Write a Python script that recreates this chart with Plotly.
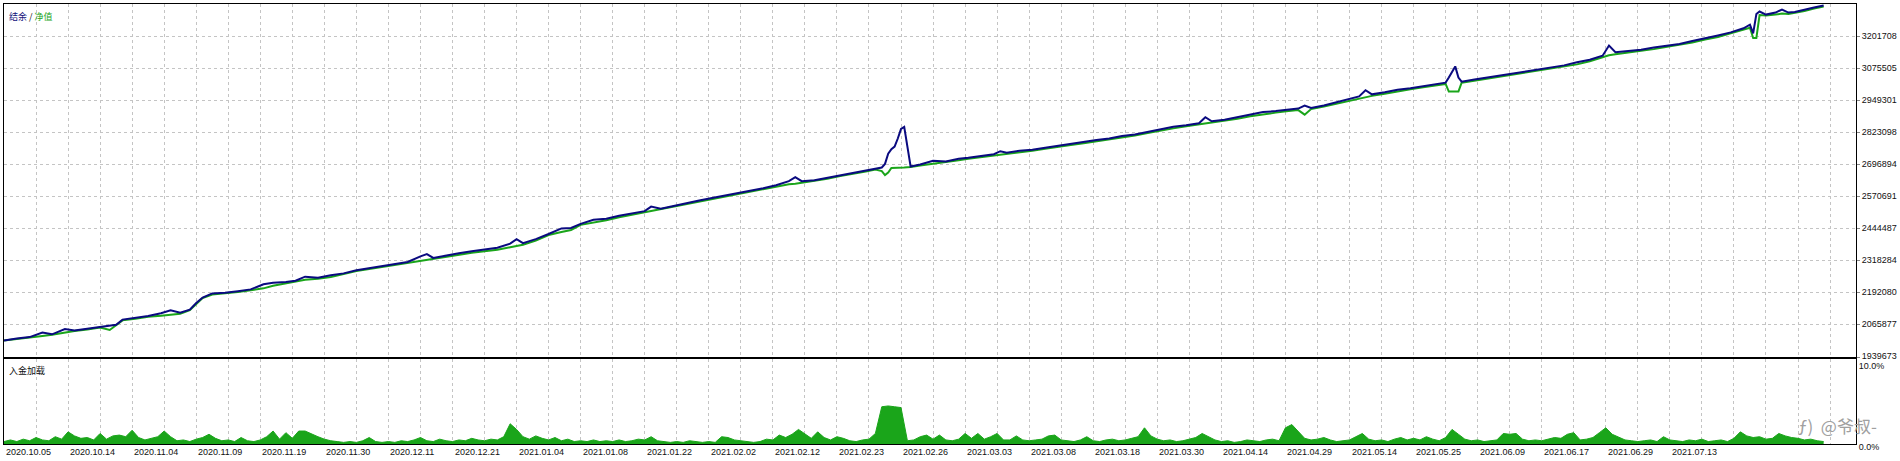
import plotly.graph_objects as go

# ---------------- data ----------------
trade_no = [0, 4, 8, 12, 15, 19, 22, 26, 30, 33, 35, 37, 41, 45, 49, 52, 55, 58, 60, 62,
            65, 69, 73, 77, 81, 84, 88, 91, 94, 98, 102, 106, 110, 114, 118, 122, 126, 130, 132, 134,
            138, 142, 146, 150, 154, 158, 160, 162, 166, 170, 174, 177, 180, 184, 188, 192, 196, 200, 202, 205,
            209, 213, 217, 221, 225, 229, 233, 237, 241, 245, 247, 249, 253, 257, 261, 265, 269, 272, 274, 275,
            276, 277, 278, 279, 280, 281, 282, 283, 286, 290, 294, 298, 301, 305, 309, 311, 313, 317, 321, 325,
            329, 333, 337, 341, 345, 349, 353, 357, 361, 365, 369, 373, 375, 377, 381, 385, 389, 393, 397, 401,
            404, 406, 408, 412, 416, 420, 423, 425, 427, 431, 435, 439, 443, 447, 450, 451, 452, 453, 454, 455,
            459, 463, 467, 471, 475, 479, 483, 487, 491, 495, 499, 501, 503, 507, 511, 515, 519, 523, 527, 531,
            535, 539, 543, 545, 546, 547, 548, 550, 553, 555, 557, 559, 562, 565, 568]

equity = [2005000, 2010000, 2015000, 2022000, 2027000, 2036000, 2042000, 2048000, 2056000, 2046000,
          2065000, 2084000, 2090000, 2098000, 2102000, 2106000, 2110000, 2124000, 2150000, 2172000,
          2186000, 2190000, 2196000, 2203000, 2210000, 2220000, 2230000, 2236000, 2244000, 2248000,
          2255000, 2266000, 2278000, 2286000, 2294000, 2302000, 2310000, 2318000, 2322000, 2326000,
          2336000, 2342000, 2350000, 2356000, 2362000, 2372000, 2376000, 2382000, 2398000, 2420000,
          2432000, 2440000, 2460000, 2468000, 2478000, 2490000, 2500000, 2510000, 2514000, 2520000,
          2530000, 2542000, 2552000, 2562000, 2572000, 2580000, 2590000, 2600000, 2610000, 2620000,
          2622000, 2626000, 2632000, 2642000, 2652000, 2660000, 2670000, 2678000, 2672000, 2656000,
          2666000, 2684000, 2684000, 2685000, 2685000, 2686000, 2687000, 2688000, 2694000, 2700000,
          2706000, 2714000, 2720000, 2726000, 2734000, 2737000, 2740000, 2746000, 2752000, 2760000,
          2766000, 2774000, 2781000, 2788000, 2796000, 2804000, 2812000, 2822000, 2832000, 2840000,
          2848000, 2855000, 2858000, 2862000, 2870000, 2878000, 2888000, 2896000, 2902000, 2908000,
          2912000, 2894000, 2916000, 2926000, 2938000, 2948000, 2958000, 2964000, 2968000, 2976000,
          2986000, 2994000, 3002000, 3008000, 3015000, 2985000, 2984000, 2984000, 2985000, 3020000,
          3028000, 3036000, 3043000, 3050000, 3058000, 3066000, 3074000, 3082000, 3092000, 3104000,
          3120000, 3128000, 3132000, 3140000, 3146000, 3152000, 3160000, 3168000, 3178000, 3190000,
          3200000, 3214000, 3228000, 3236000, 3196000, 3196000, 3286000, 3284000, 3288000, 3292000,
          3290000, 3294000, 3302000, 3312000, 3320000]

balance = [2005000, 2013000, 2018000, 2036000, 2029000, 2050000, 2044000, 2051000, 2058000, 2062000,
           2067000, 2087000, 2094000, 2101000, 2112000, 2124000, 2114000, 2126000, 2152000, 2174000,
           2190000, 2193000, 2199000, 2206000, 2226000, 2232000, 2235000, 2240000, 2256000, 2252000,
           2262000, 2269000, 2281000, 2289000, 2298000, 2305000, 2314000, 2336000, 2345000, 2330000,
           2340000, 2348000, 2356000, 2362000, 2370000, 2386000, 2404000, 2388000, 2404000, 2424000,
           2446000, 2448000, 2464000, 2480000, 2484000, 2496000, 2504000, 2514000, 2532000, 2524000,
           2534000, 2546000, 2556000, 2566000, 2575000, 2584000, 2594000, 2604000, 2616000, 2632000,
           2648000, 2632000, 2636000, 2645000, 2655000, 2664000, 2674000, 2680000, 2686000, 2700000,
           2740000, 2758000, 2768000, 2800000, 2838000, 2846000, 2760000, 2690000, 2698000, 2712000,
           2710000, 2720000, 2724000, 2732000, 2738000, 2750000, 2744000, 2752000, 2756000, 2764000,
           2772000, 2778000, 2786000, 2794000, 2800000, 2810000, 2816000, 2826000, 2838000, 2846000,
           2852000, 2860000, 2884000, 2868000, 2874000, 2884000, 2892000, 2904000, 2908000, 2914000,
           2918000, 2930000, 2920000, 2930000, 2942000, 2954000, 2966000, 2990000, 2974000, 2982000,
           2992000, 2998000, 3006000, 3012000, 3020000, 3040000, 3062000, 3084000, 3040000, 3024000,
           3032000, 3040000, 3048000, 3056000, 3062000, 3072000, 3078000, 3088000, 3100000, 3110000,
           3126000, 3166000, 3140000, 3144000, 3150000, 3158000, 3164000, 3172000, 3184000, 3194000,
           3206000, 3218000, 3234000, 3248000, 3214000, 3290000, 3300000, 3288000, 3296000, 3308000,
           3296000, 3298000, 3308000, 3316000, 3324000]

load_trade = list(range(0, 570, 2))
load_pct = [0.3, 0.5, 0.3, 0.6, 0.4,  0.8, 0.5, 0.4, 0.9, 0.6,  1.5, 1.0, 0.7, 0.8, 0.5,
            1.3, 0.6, 1.0, 1.1, 0.9,  1.7, 0.8, 0.5, 0.7, 0.9,  1.6, 0.9, 0.4, 0.5, 0.3,
            0.6, 0.8, 1.2, 0.7, 0.4,  0.5, 0.3, 0.8, 0.4, 0.3,  0.5, 0.9, 1.6, 0.6, 1.4,
            0.7, 1.6, 1.6, 1.2, 0.9,  0.6, 0.4, 0.3, 0.2, 0.3,  0.2, 0.4, 0.8, 0.3, 0.2,
            0.3, 0.2, 0.4, 0.3, 0.5,  0.8, 0.4, 0.3, 0.6, 0.4,  0.3, 0.5, 0.4, 0.7, 0.5,
            0.4, 0.6, 0.5, 0.9, 2.5,  1.8, 0.9, 0.6, 1.0, 0.7,  0.5, 0.8, 0.4, 0.6, 0.3,
            0.4, 0.3, 0.5, 0.3, 0.4,  0.3, 0.5, 0.3, 0.4, 0.6,  0.5, 0.9, 0.4, 0.3, 0.2,
            0.3, 0.2, 0.4, 0.3, 0.2,  0.3, 0.2, 0.9, 0.8, 0.5,  0.4, 0.3, 0.2, 0.3, 0.6,
            0.5, 1.1, 0.8, 1.2, 1.8,  1.2, 0.7, 1.5, 0.8, 0.5,  0.9, 0.7, 0.4, 0.3, 0.5,
            0.6, 1.3, 4.6, 4.7, 4.6,  4.5, 0.4, 0.5, 0.9, 1.1,  0.6, 1.1, 0.5, 0.4, 0.6,
            1.3, 0.7, 1.3, 0.6, 0.9,  1.3, 0.5, 0.5, 1.0, 0.5,  0.4, 0.5, 0.6, 1.0, 1.1,
            0.5, 0.4, 0.3, 0.5, 0.9,  0.4, 0.3, 0.5, 0.6, 0.4,  0.5, 0.7, 0.9, 2.0, 1.0,
            0.6, 0.4, 0.5, 0.3, 0.4,  0.6, 0.8, 1.3, 0.9, 0.5,  0.3, 0.4, 0.2, 0.3, 0.5,
            0.4, 0.3, 0.5, 0.6, 0.4,  2.0, 2.4, 1.5, 0.7, 0.5,  0.6, 0.8, 0.5, 0.3, 0.4,
            0.5, 0.9, 1.3, 0.6, 0.4,  0.5, 0.3, 0.6, 0.8, 0.5,  0.7, 0.5, 0.9, 0.6, 0.4,
            0.8, 1.8, 1.2, 0.6, 0.4,  0.5, 0.3, 0.4, 0.5, 1.3,  1.2, 1.3, 0.6, 0.4, 0.5,
            0.4, 0.6, 0.8, 0.7, 1.2,  1.4, 0.5, 0.6, 0.8, 1.4,  2.0, 1.2, 0.8, 0.5, 0.4,
            0.3, 0.4, 0.5, 0.3, 0.9,  0.5, 0.4, 0.3, 0.5, 0.4,  0.6, 0.3, 0.4, 0.5, 0.3,
            0.7, 1.5, 1.0, 0.8, 0.9,  0.6, 0.7, 1.3, 1.0, 0.8,  0.7, 0.5, 0.6, 0.4, 0.3]

y_ticks = [1939673, 2065877, 2192080, 2318284, 2444487, 2570691, 2696894,
           2823098, 2949301, 3075505, 3201708]
date_trade = [0, 20, 40, 60, 80, 100, 120, 140, 160, 180, 200, 220, 240, 260,
              280, 300, 320, 340, 360, 380, 400, 420, 440, 460, 480, 500, 520]
date_labels = ['2020.10.05', '2020.10.14', '2020.11.04', '2020.11.09', '2020.11.19',
               '2020.11.30', '2020.12.11', '2020.12.21', '2021.01.04', '2021.01.08',
               '2021.01.22', '2021.02.02', '2021.02.12', '2021.02.23', '2021.02.26',
               '2021.03.03', '2021.03.08', '2021.03.18', '2021.03.30', '2021.04.14',
               '2021.04.29', '2021.05.14', '2021.05.25', '2021.06.09', '2021.06.17',
               '2021.06.29', '2021.07.13']

# ---------------- figure ----------------
BLUE = '#0a0a80'
GREEN = '#1aa51a'
GRID = '#c4c4c4'
FONT = 'Liberation Sans, Arial, sans-serif'
X_MAX = 578.1
Y_MIN, Y_MAX = 1939673, 3329700

fig = go.Figure()
fig.add_trace(go.Scatter(x=trade_no, y=equity, mode='lines',
                         line=dict(color=GREEN, width=2), xaxis='x', yaxis='y',
                         hoverinfo='skip'))
fig.add_trace(go.Scatter(x=trade_no, y=balance, mode='lines',
                         line=dict(color=BLUE, width=2), xaxis='x', yaxis='y',
                         hoverinfo='skip'))
fig.add_trace(go.Scatter(x=load_trade, y=load_pct, mode='lines', fill='tozeroy',
                         fillcolor=GREEN, line=dict(color=GREEN, width=1),
                         xaxis='x2', yaxis='y2', hoverinfo='skip'))

common_x = dict(range=[0, X_MAX], tick0=0, dtick=10, showgrid=True, gridcolor=GRID,
                griddash='3px,3px', gridwidth=1, showticklabels=False, ticks='',
                showline=True, mirror=True, linecolor='black', linewidth=1,
                zeroline=False, automargin=False)

annotations = []
for t, lab in zip(date_trade, date_labels):
    annotations.append(dict(x=t, xref='x2', y=0, yref='paper', yanchor='top', xanchor='left',
                            text=lab, showarrow=False, xshift=0, yshift=-1,
                            font=dict(family=FONT, size=9, color='#111111')))
annotations.append(dict(x=0, xref='paper', y=1, yref='paper', xanchor='left', yanchor='top',
                        xshift=3, yshift=-4, showarrow=False,
                        text="<span style='color:#10107a'>结余</span> / "
                             "<span style='color:#1aa51a'>净值</span>",
                        font=dict(family='Noto Sans CJK SC', size=9, color='#111111')))
annotations.append(dict(x=0, xref='paper', y=0.1932, yref='paper', xanchor='left', yanchor='top',
                        xshift=3, yshift=-3, showarrow=False, text='入金加载',
                        font=dict(family='Noto Sans CJK SC', size=9, color='#111111')))
annotations.append(dict(x=1, xref='paper', y=0, yref='paper', xanchor='left', yanchor='bottom',
                        xshift=-60, yshift=4, showarrow=False, text='ƒ)  @爷叔-',
                        font=dict(family='Noto Sans CJK SC', size=17, color='#a0a0a0')))

fig.update_layout(
    width=1900, height=461,
    margin=dict(l=4, r=44, t=4, b=17),
    paper_bgcolor='white', plot_bgcolor='white',
    showlegend=False,
    font=dict(family=FONT, size=9, color='#111111'),
    xaxis=dict(domain=[0, 1], anchor='y', **common_x),
    xaxis2=dict(domain=[0, 1], anchor='y2', matches='x', **common_x),
    yaxis=dict(domain=[0.1977, 1], anchor='x', side='right', range=[Y_MIN, Y_MAX],
               tickvals=y_ticks, ticktext=[str(v) for v in y_ticks],
               showgrid=True, gridcolor=GRID, griddash='3px,3px', gridwidth=1,
               ticks='outside', ticklen=3, tickcolor='#888888',
               showline=True, mirror=True, linecolor='black', linewidth=1,
               zeroline=False, automargin=False, ticklabelshift=-1,
               tickfont=dict(family=FONT, size=9, color='#111111')),
    yaxis2=dict(domain=[0, 0.1932], anchor='x2', side='right', range=[0, 10.5],
                tickvals=[0, 10], ticktext=['0.0%', '10.0%'], showgrid=False,
                ticks='', showline=True, mirror=True, linecolor='black', linewidth=1,
                zeroline=False, automargin=False, ticklabelshift=3,
                tickfont=dict(family=FONT, size=9, color='#111111')),
    annotations=annotations,
)

fig.write_html('out.html', config={'displayModeBar': False},
               post_script="document.body.style.margin='0';document.body.style.overflow='hidden';")
